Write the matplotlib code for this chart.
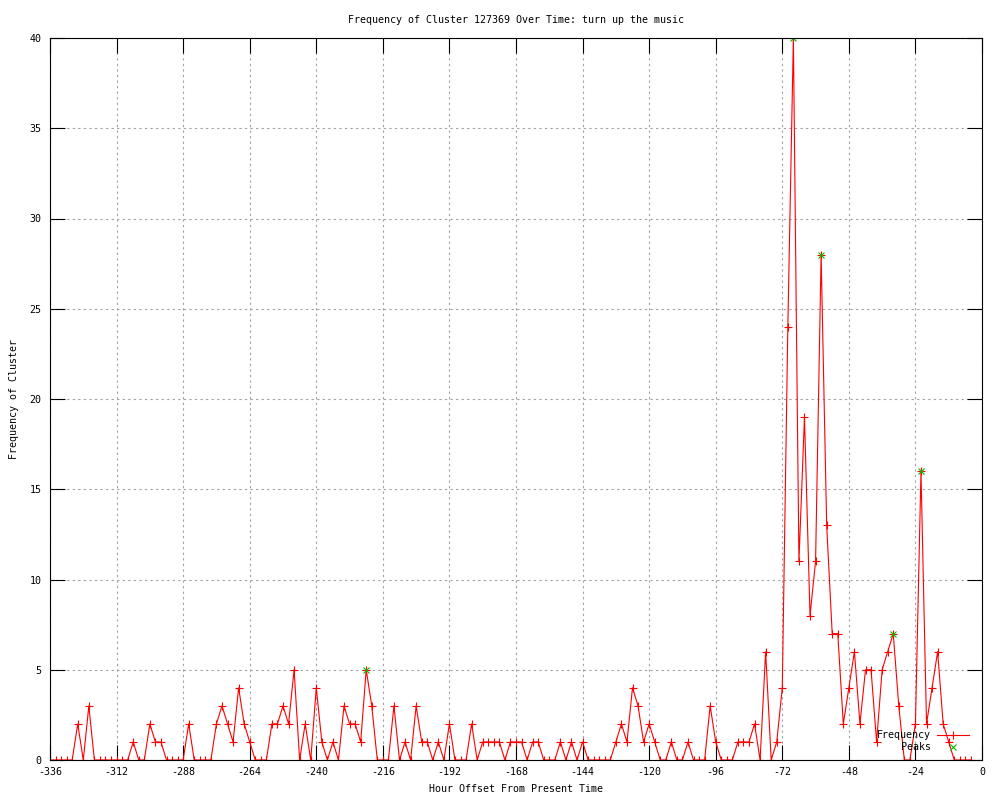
import matplotlib
matplotlib.use("Agg")
import matplotlib.pyplot as plt

# -------------------------------
# Data
# -------------------------------
hours = list(range(-336, -2, 2))  # hour offsets, one point every 2 hours

frequency = [
    0, 0, 0, 0, 0, 2, 0, 3, 0, 0,      # -336 .. -318
    0, 0, 0, 0, 0, 1, 0, 0, 2, 1,      # -316 .. -298
    1, 0, 0, 0, 0, 2, 0, 0, 0, 0,      # -296 .. -278
    2, 3, 2, 1, 4, 2, 1, 0, 0, 0,      # -276 .. -258
    2, 2, 3, 2, 5, 0, 2, 0, 4, 1,      # -256 .. -238
    0, 1, 0, 3, 2, 2, 1, 5, 3, 0,      # -236 .. -218
    0, 0, 3, 0, 1, 0, 3, 1, 1, 0,      # -216 .. -198
    1, 0, 2, 0, 0, 0, 2, 0, 1, 1,      # -196 .. -178
    1, 1, 0, 1, 1, 1, 0, 1, 1, 0,      # -176 .. -158
    0, 0, 1, 0, 1, 0, 1, 0, 0, 0,      # -156 .. -138
    0, 0, 1, 2, 1, 4, 3, 1, 2, 1,      # -136 .. -118
    0, 0, 1, 0, 0, 1, 0, 0, 0, 3,      # -116 .. -98
    1, 0, 0, 0, 1, 1, 1, 2, 0, 6,      # -96 .. -78
    0, 1, 4, 24, 40, 11, 19, 8, 11, 28,  # -76 .. -58
    13, 7, 7, 2, 4, 6, 2, 5, 5, 1,     # -56 .. -38
    5, 6, 7, 3, 0, 0, 2, 16, 2, 4,     # -36 .. -18
    6, 2, 1, 0, 0, 0, 0,               # -16 .. -4
]

peak_hours = [-222, -68, -58, -32, -22]
peak_values = [5, 40, 28, 7, 16]

x_ticks = list(range(-336, 1, 24))
y_ticks = list(range(0, 41, 5))

# -------------------------------
# Style (gnuplot look)
# -------------------------------
plt.rcParams["font.family"] = ["DejaVu Sans Mono"]
plt.rcParams["font.size"] = 7.2
plt.rcParams["axes.unicode_minus"] = False

fig = plt.figure(figsize=(10, 8), dpi=100)
ax = fig.add_axes([0.05, 0.05, 0.932, 0.9025])

# -------------------------------
# Plot frequency line and peaks
# -------------------------------
ax.plot(hours, frequency, color="#ff0000", linewidth=0.8, marker="+",
        markersize=6, markeredgewidth=0.8, label="Frequency")
ax.plot(peak_hours, peak_values, linestyle="none", color="#00c000", marker="x",
        markersize=5, markeredgewidth=0.8, label="Peaks")

ax.set_xlim(-336, 0)
ax.set_ylim(0, 40)
ax.set_xticks(x_ticks)
ax.set_yticks(y_ticks)
ax.tick_params(direction="in", length=11, width=0.8, top=True, right=True,
               pad=6, colors="black")
ax.tick_params(axis="x", pad=5)
for s in ax.spines.values():
    s.set_linewidth(0.8)

ax.grid(True, color="#a0a0a0", linestyle=(0, (2, 3)), linewidth=0.8)
ax.set_axisbelow(True)

ax.set_title("Frequency of Cluster 127369 Over Time: turn up the music",
             fontsize=7.2, pad=11)
ax.set_xlabel("Hour Offset From Present Time", labelpad=5)
ax.set_ylabel("Frequency of Cluster")
ax.yaxis.set_label_coords(-0.0333, 0.5)

ax.legend(loc="lower right", bbox_to_anchor=(0.9945, 0.0), frameon=False,
          markerfirst=False, handlelength=3.2, handletextpad=0.6,
          labelspacing=0.15, borderpad=0.3, numpoints=1)

plt.savefig("out.png", dpi=100)
